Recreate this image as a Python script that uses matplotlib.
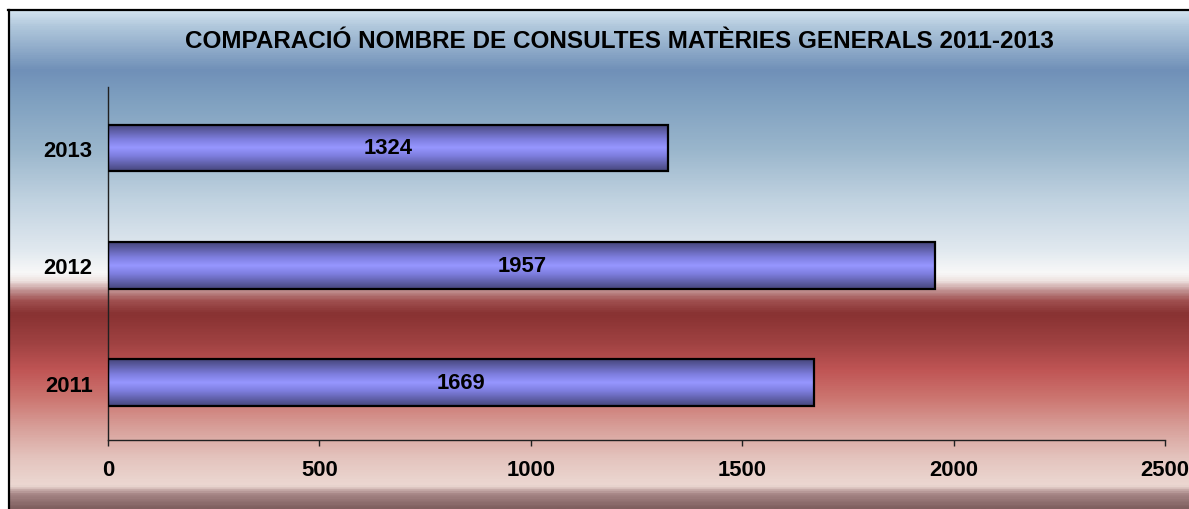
import numpy as np
import matplotlib.pyplot as plt
from matplotlib.colors import LinearSegmentedColormap
from matplotlib.lines import Line2D

# data
years = ['2011', '2012', '2013']
consultes = [1669, 1957, 1324]
xticks = [0, 500, 1000, 1500, 2000, 2500]
title = 'COMPARACIÓ NOMBRE DE CONSULTES MATÈRIES GENERALS 2011-2013'

W, H = 1189, 510
plt.rcParams['font.family'] = ['Liberation Sans', 'DejaVu Sans']
plt.rcParams['font.weight'] = 'bold'

fig = plt.figure(figsize=(W / 100, H / 100), dpi=100)

# background gradient, stops as pixel rows from the top of the image
stops = [(11, '#d2e2ef'), (25, '#b2c9dd'), (70, '#7090b8'), (100, '#7fa0c0'),
         (150, '#9ab6cc'), (200, '#c0d2e0'), (250, '#e0e8ef'), (274, '#f8f8f8'),
         (282, '#eee2e0'), (292, '#c09090'), (302, '#a05050'), (315, '#883232'),
         (345, '#a04242'), (372, '#c05555'), (400, '#cc7570'), (430, '#d8a09a'),
         (460, '#e4c4be'), (488, '#ecd8d2'), (496, '#a88888'), (510, '#806060')]
top, bottom = 11, 510
bg = fig.add_axes([9 / W, 0, 1 - 9 / W, (H - top) / H])
pos = [(y - top) / (bottom - top) for y, _ in stops]
cmap = LinearSegmentedColormap.from_list('bg', list(zip(pos, [c for _, c in stops])))
bg.imshow(np.linspace(0, 1, 600).reshape(-1, 1), cmap=cmap, aspect='auto')
bg.axis('off')

# frame (left and top edges only, the rest is cut off)
fig.add_artist(Line2D([9 / W, 9 / W], [0, (H - 11) / H], color='black', lw=1.6,
                      transform=fig.transFigure))
fig.add_artist(Line2D([8 / W, 1], [(H - 11) / H, (H - 11) / H], color='black', lw=1.6,
                      transform=fig.transFigure))

fig.text(619.5 / W, (H - 41) / H, title, ha='center', va='center',
         fontsize=17.5, fontweight='bold')

ax = fig.add_axes([108 / W, (H - 441) / H, (1165 - 108) / W, (441 - 88) / H])
ax.patch.set_alpha(0)

bars = ax.barh(years, consultes, height=0.4, color='none', edgecolor='black',
               linewidth=1.6, zorder=3)

barcmap = LinearSegmentedColormap.from_list(
    'bar', [(0, '#46467c'), (0.32, '#7e7ede'), (0.5, '#9696ff'), (0.68, '#7e7ede'), (1, '#46467c')])
for b in bars:
    x0, y0, w, h = b.get_x(), b.get_y(), b.get_width(), b.get_height()
    im = ax.imshow(np.linspace(0, 1, 100).reshape(-1, 1), cmap=barcmap, aspect='auto',
                   extent=[x0, x0 + w, y0, y0 + h], zorder=2)
    im.set_clip_path(b)

ax.bar_label(bars, label_type='center', fontsize=15.8, fontweight='bold')

ax.set_xlim(0, 2500)
ax.set_ylim(-0.49, 2.52)
ax.set_xticks(xticks)
ax.spines[['top', 'right']].set_visible(False)
for s in ['left', 'bottom']:
    ax.spines[s].set_color('#202020')
    ax.spines[s].set_linewidth(1.0)
ax.tick_params(axis='x', direction='out', length=4.5, width=1.0, color='#202020',
               pad=9, labelsize=15.8)
ax.tick_params(axis='y', length=0, pad=11, labelsize=15.8)
for lab in ax.get_xticklabels() + ax.get_yticklabels():
    lab.set_fontweight('bold')

fig.savefig('out.png', dpi=100)
